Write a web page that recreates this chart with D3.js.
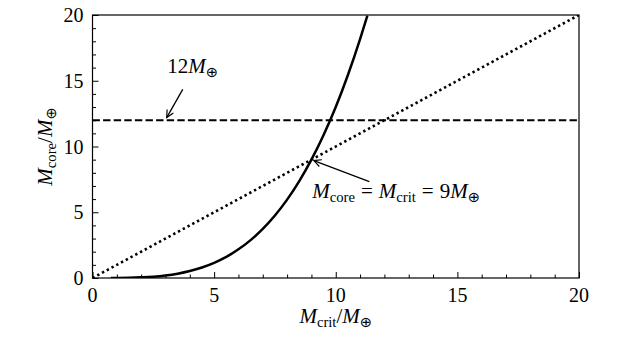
<!DOCTYPE html>
<html>
<head>
<meta charset="utf-8">
<script src="https://cdn.jsdelivr.net/npm/d3@7"></script>
<style>
  body { margin: 0; background: #fff; }
  text { font-family: "Liberation Serif", "DejaVu Serif", serif; fill: #000; }
</style>
</head>
<body>
<div id="chart"></div>
<script>
// Data
const critMass = [0.75, 1, 1.5, 2, 2.5, 3, 3.5, 4, 4.5, 5, 5.5, 6, 6.5, 7, 7.5, 8, 8.5, 9, 9.5, 10, 10.5, 11, 11.3];
const coreMass = [0, 0.004, 0.017, 0.05, 0.10, 0.19, 0.33, 0.53, 0.80, 1.15, 1.60, 2.18, 2.88, 3.73, 4.75, 5.96, 7.37, 9, 10.88, 13.01, 15.44, 18.17, 19.96];
const equalX = [0, 20];
const equalY = [0, 20];
const limitX = [0, 20];
const limitY = [12, 12];
const xTicks = [0, 5, 10, 15, 20];
const yTicks = [0, 5, 10, 15, 20];

// Set the dimensions and margins of the graph
const margin = {top: 15, right: 61, bottom: 73, left: 92.5},
    width = 640 - margin.left - margin.right,
    height = 351 - margin.top - margin.bottom;

const svg = d3.select("#chart")
  .append("svg")
    .attr("width", 640)
    .attr("height", 351)
  .append("g")
    .attr("transform", `translate(${margin.left},${margin.top})`);

const x = d3.scaleLinear().domain([0, 20]).range([0, width]);
const y = d3.scaleLinear().domain([0, 20]).range([height, 0]);

// clip for the curves
svg.append("clipPath").attr("id", "clip")
  .append("rect").attr("width", width).attr("height", height);

const plot = svg.append("g").attr("clip-path", "url(#clip)");

const line = d3.line().x(d => x(d[0])).y(d => y(d[1]));

// y = x dotted line
plot.append("path")
    .datum(d3.zip(equalX, equalY))
    .attr("d", line)
    .attr("fill", "none")
    .attr("stroke", "#000")
    .attr("stroke-width", 2.6)
    .attr("stroke-dasharray", "2.4,3");

// 12 Earth mass dashed line
plot.append("path")
    .datum(d3.zip(limitX, limitY))
    .attr("d", line)
    .attr("fill", "none")
    .attr("stroke", "#000")
    .attr("stroke-width", 2)
    .attr("stroke-dasharray", "7.4,3.2");

// critical mass curve
plot.append("path")
    .datum(d3.zip(critMass, coreMass))
    .attr("d", line.curve(d3.curveMonotoneX))
    .attr("fill", "none")
    .attr("stroke", "#000")
    .attr("stroke-width", 2.5);

// Axes with inward ticks
const xAxis = svg.append("g")
    .attr("transform", `translate(0,${height})`)
    .call(d3.axisBottom(x).tickValues(d3.range(0, 21, 1)).tickSize(-3.5).tickFormat(""));
xAxis.selectAll(".tick line").filter(d => d % 5 === 0).attr("y2", -6);
xAxis.select(".domain").remove();

const yAxis = svg.append("g")
    .call(d3.axisLeft(y).tickValues(d3.range(0, 21, 1)).tickSize(-3.5).tickFormat(""));
yAxis.selectAll(".tick line").filter(d => d % 5 === 0).attr("x2", 6);
yAxis.select(".domain").remove();

// frame
svg.append("rect")
    .attr("width", width)
    .attr("height", height)
    .attr("fill", "none")
    .attr("stroke", "#000")
    .attr("stroke-width", 1.2);

// tick labels
svg.selectAll(".xlab").data(xTicks).enter().append("text")
    .attr("x", d => x(d))
    .attr("y", height + 24)
    .attr("text-anchor", "middle")
    .style("font-size", "20px")
    .text(d => d);

svg.selectAll(".ylab").data(yTicks).enter().append("text")
    .attr("x", -9)
    .attr("y", d => y(d))
    .attr("dy", "0.35em")
    .attr("text-anchor", "end")
    .style("font-size", "20px")
    .text(d => d);

// math label helper: M with subscript
function mathLabel(sel, parts) {
  parts.forEach(p => {
    const t = sel.append("tspan").text(p.t);
    if (p.it) t.style("font-style", "italic");
    if (p.sub) t.attr("baseline-shift", "-25%").style("font-size", "0.7em");
    if (p.sym) t.style("font-family", "DejaVu Sans");
    if (p.dx) t.attr("dx", p.dx);
  });
}

// X axis label
const xl = svg.append("text")
    .attr("x", width / 2)
    .attr("y", height + 45)
    .attr("text-anchor", "middle")
    .style("font-size", "21px");
mathLabel(xl, [{t: "M", it: true}, {t: "crit", sub: true}, {t: "/"}, {t: "M", it: true}, {t: "\u2295", sub: true, sym: true}]);

// Y axis label
const yl = svg.append("text")
    .attr("transform", `translate(${-41},${height / 2}) rotate(-90)`)
    .attr("text-anchor", "middle")
    .style("font-size", "21px");
mathLabel(yl, [{t: "M", it: true}, {t: "core", sub: true}, {t: "/"}, {t: "M", it: true}, {t: "\u2295", sub: true, sym: true}]);

// arrow marker
svg.append("defs").append("marker")
    .attr("id", "arr")
    .attr("viewBox", "0 0 10 10")
    .attr("refX", 9).attr("refY", 5)
    .attr("markerWidth", 9).attr("markerHeight", 9)
    .attr("markerUnits", "userSpaceOnUse")
    .attr("orient", "auto")
  .append("path")
    .attr("d", "M1,1 L9,5 L1,9")
    .attr("fill", "none")
    .attr("stroke", "#000")
    .attr("stroke-width", 1.3);

// Annotation: 12 Earth masses
svg.append("line")
    .attr("x1", x(3.71)).attr("y1", y(14.34))
    .attr("x2", x(3.05)).attr("y2", y(12.2))
    .attr("stroke", "#000").attr("stroke-width", 1.3)
    .attr("marker-end", "url(#arr)");
const a1 = svg.append("text")
    .attr("x", x(3.07)).attr("y", y(15.56))
    .style("font-size", "21px");
mathLabel(a1, [{t: "12"}, {t: "M", it: true}, {t: "\u2295", sub: true, sym: true}]);

// Annotation: crossing point
svg.append("line")
    .attr("x1", x(11.38)).attr("y1", y(7.33))
    .attr("x2", x(9.1)).attr("y2", y(8.93))
    .attr("stroke", "#000").attr("stroke-width", 1.3)
    .attr("marker-end", "url(#arr)");
const a2 = svg.append("text")
    .attr("x", x(9.03)).attr("y", y(6.11))
    .style("font-size", "21px");
mathLabel(a2, [{t: "M", it: true}, {t: "core", sub: true}, {t: "=", dx: 6}, {t: "M", it: true, dx: 6}, {t: "crit", sub: true}, {t: "=", dx: 6}, {t: "9", dx: 6}, {t: "M", it: true}, {t: "\u2295", sub: true, sym: true}]);
</script>
</body>
</html>
